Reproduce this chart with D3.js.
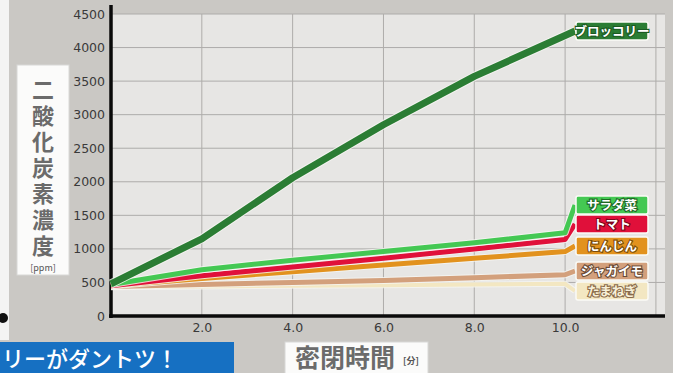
<!DOCTYPE html>
<html>
<head>
  <meta charset="utf-8">
  <script src="https://d3js.org/d3.v7.min.js"></script>
  <style>
    body { margin: 0; background: #cac8c4; }
    text { font-family: "Noto Sans CJK JP", "Noto Sans", sans-serif; }
    .tick text { font-family: "DejaVu Sans", sans-serif; font-size: 12.5px; fill: #3a3a3a; }
  </style>
</head>
<body>
  <div id="chart"></div>
  <script>
    // data
    var minutes = [0, 2, 4, 6, 8, 10];
    var broccoli = [480, 1150, 2060, 2850, 3570, 4180];
    var salad = [470, 690, 830, 960, 1090, 1240];
    var tomato = [450, 600, 730, 860, 1000, 1140];
    var carrot = [450, 560, 660, 760, 860, 960];
    var potato = [440, 470, 500, 530, 570, 615];
    var onion = [430, 440, 450, 460, 470, 480];
    var seriesNames = ["ブロッコリー", "サラダ菜", "トマト", "にんじん", "ジャガイモ", "たまねぎ"];
    var yTicks = [0, 500, 1000, 1500, 2000, 2500, 3000, 3500, 4000, 4500];
    var xTicks = [2, 4, 6, 8, 10];

    var width = 673, height = 373;

    var svg = d3.select("#chart").append("svg")
      .attr("width", width)
      .attr("height", height);

    var x = d3.scaleLinear().domain([0, 12.2]).range([111, 665]);
    var y = d3.scaleLinear().domain([0, 4500]).range([316, 14]);

    // left white edge + bullet
    svg.append("rect").attr("x", 0).attr("y", 0).attr("width", 9).attr("height", 340).attr("fill", "#f4f4f3");
    svg.append("circle").attr("cx", 3).attr("cy", 318).attr("r", 5).attr("fill", "#111");

    // plot background
    svg.append("rect")
      .attr("x", x(0)).attr("y", y(4500))
      .attr("width", x(12.2) - x(0)).attr("height", y(0) - y(4500))
      .attr("fill", "#e7e6e4");

    // grid
    svg.append("g").selectAll("line").data(yTicks.slice(1)).enter().append("line")
      .attr("x1", x(0)).attr("x2", x(12.2))
      .attr("y1", function(d) { return y(d); }).attr("y2", function(d) { return y(d); })
      .attr("stroke", "#aeacaa").attr("stroke-width", 1);
    svg.append("g").selectAll("line").data(xTicks.concat([12])).enter().append("line")
      .attr("x1", function(d) { return x(d); }).attr("x2", function(d) { return x(d); })
      .attr("y1", y(4500)).attr("y2", y(0))
      .attr("stroke", "#aeacaa").attr("stroke-width", 1);

    // axes
    var yAxis = svg.append("g")
      .attr("transform", "translate(" + x(0) + ",0)")
      .call(d3.axisLeft(y).tickValues(yTicks).tickSize(0).tickPadding(6).tickFormat(d3.format("d")));
    yAxis.select(".domain").remove();
    var xAxis = svg.append("g")
      .attr("transform", "translate(0," + y(0) + ")")
      .call(d3.axisBottom(x).tickValues(xTicks).tickSize(0).tickPadding(7)
        .tickFormat(d3.format(".1f")));
    xAxis.select(".domain").remove();

    svg.append("line").attr("x1", x(0)).attr("x2", x(0)).attr("y1", 5).attr("y2", y(0) + 2)
      .attr("stroke", "#0a0a0a").attr("stroke-width", 3.5);
    svg.append("line").attr("x1", x(0) - 2).attr("x2", x(12.2)).attr("y1", y(0)).attr("y2", y(0))
      .attr("stroke", "#0a0a0a").attr("stroke-width", 3.5);

    // series, label boxes placed by hand to the right
    var series = [
      { name: seriesNames[5], values: onion, color: "#f3e7c2", text: "#f7f0d8", outline: "#8a6a4a", w: 4, labelY: 291 },
      { name: seriesNames[4], values: potato, color: "#d3a07c", text: "#ffffff", outline: "#6a4a34", w: 5, labelY: 271 },
      { name: seriesNames[3], values: carrot, color: "#e2921e", text: "#ffffff", outline: "#7a4a08", w: 5, labelY: 246 },
      { name: seriesNames[2], values: tomato, color: "#e0103a", text: "#ffffff", outline: "#7a0418", w: 5, labelY: 224 },
      { name: seriesNames[1], values: salad, color: "#44c853", text: "#ffffff", outline: "#1e6a24", w: 5, labelY: 205 },
      { name: seriesNames[0], values: broccoli, color: "#2b7d34", text: "#ffffff", outline: "#1b5a22", w: 7, labelY: 31 }
    ];

    var line = d3.line()
      .x(function(d) { return d[0]; })
      .y(function(d) { return d[1]; });

    var labelX = 575;

    series.forEach(function(s) {
      var pts = minutes.map(function(m, i) { return [x(m), y(s.values[i])]; });
      pts.push([labelX, s.labelY]);
      svg.append("path").datum(pts)
        .attr("d", line)
        .attr("fill", "none")
        .attr("stroke", "#f6f6f2")
        .attr("stroke-width", s.w + 2)
        .attr("stroke-linejoin", "round")
        .attr("stroke-opacity", 0.8);
      svg.append("path").datum(pts)
        .attr("d", line)
        .attr("fill", "none")
        .attr("stroke", s.color)
        .attr("stroke-width", s.w)
        .attr("stroke-linejoin", "round");
    });

    series.forEach(function(s) {
      var g = svg.append("g");
      g.append("rect")
        .attr("x", labelX + 1).attr("y", s.labelY - 9)
        .attr("width", 72).attr("height", 18)
        .attr("rx", 2)
        .attr("fill", s.color)
        .attr("stroke", "#fbfbf6").attr("stroke-width", 1.5);
      g.append("text")
        .attr("x", labelX + 37).attr("y", s.labelY + 4.5)
        .attr("text-anchor", "middle")
        .attr("font-size", 12.5)
        .attr("font-weight", "bold")
        .attr("fill", s.text)
        .attr("stroke", s.outline)
        .attr("stroke-width", 2.2)
        .attr("paint-order", "stroke")
        .text(s.name);
    });

    // y title, set vertically in one text element
    svg.append("rect").attr("x", 17).attr("y", 65).attr("width", 52).attr("height", 210)
      .attr("fill", "#fbfbfa").attr("stroke", "#d8d8d6");
    svg.append("text")
      .attr("x", 43).attr("y", 79)
      .style("writing-mode", "vertical-rl")
      .style("letter-spacing", "4px")
      .attr("font-size", 22)
      .attr("font-weight", "bold")
      .attr("fill", "#6b6b6b")
      .text("二酸化炭素濃度");
    svg.append("text").attr("x", 43).attr("y", 271).attr("text-anchor", "middle")
      .attr("font-size", 9).attr("fill", "#555").text("[ppm]");

    // x title
    svg.append("rect").attr("x", 285).attr("y", 342).attr("width", 143).attr("height", 34)
      .attr("fill", "#fbfbfa").attr("stroke", "#d8d8d6");
    svg.append("text").attr("x", 295).attr("y", 367)
      .attr("font-size", 25).attr("font-weight", "bold").attr("fill", "#6b6b6b")
      .text("密閉時間");
    svg.append("text").attr("x", 403).attr("y", 364)
      .attr("font-size", 9).attr("font-weight", "bold").attr("fill", "#555").text("[分]");

    // caption banner
    svg.append("rect").attr("x", 0).attr("y", 342).attr("width", 234).attr("height", 31)
      .attr("fill", "#1670c2");
    svg.append("text").attr("x", 2).attr("y", 367)
      .attr("font-size", 22).attr("font-weight", 500).attr("fill", "#ffffff")
      .text("リーがダントツ！");
  </script>
</body>
</html>
